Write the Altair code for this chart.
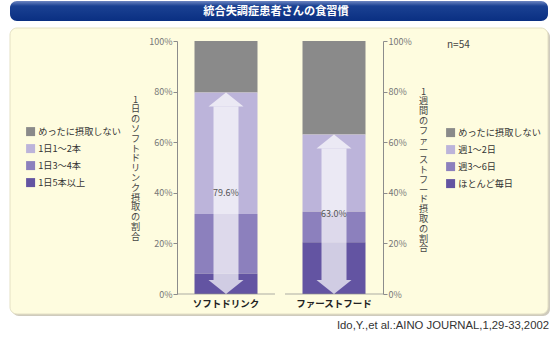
import altair as alt
import pandas as pd

# ---------------- data ----------------
categories = ["ソフトドリンク", "ファーストフード"]
soft_labels = ["めったに摂取しない", "1日1〜2本", "1日3〜4本", "1日5本以上"]
soft_values = [20.4, 48.0, 23.6, 8.0]
soft_order = [3, 2, 1, 0]
fast_labels = ["めったに摂取しない", "週1〜2日", "週3〜6日", "ほとんど毎日"]
fast_values = [37.0, 30.5, 12.0, 20.5]
fast_order = [3, 2, 1, 0]
arrow_values = [79.6, 63.0]
arrow_texts = ["79.6%", "63.0%"]
tick_values = [0, 20, 40, 60, 80, 100]
title_text = "統合失調症患者さんの食習慣"
left_title = "1日のソフトドリンク摂取の割合"
right_title = "1週間のファーストフード摂取の割合"
n_text = "n=54"
source_text = "Ido,Y.,et al.:AINO JOURNAL,1,29-33,2002"

colors = ["#8a8a8a", "#bcb4da", "#8c80bd", "#6354a2"]
FONT = "Noto Sans CJK JP"

# plot area placement inside the 560x339 page
W, H = 206, 253
X0, Y0 = 177, 41


def px(x):
    return x - X0


def py(y):
    return y - Y0


soft_df = pd.DataFrame({"cat": categories[0], "label": soft_labels,
                        "value": soft_values, "order": soft_order})
fast_df = pd.DataFrame({"cat": categories[1], "label": fast_labels,
                        "value": fast_values, "order": fast_order})
arrow_df = pd.DataFrame({"cat": categories, "value": arrow_values,
                         "text": arrow_texts, "zero": [0, 0]})
base_df = pd.DataFrame({"cat": categories, "zero": [0, 0]})
one = pd.DataFrame({"d": [0]})


def xs():
    return alt.Scale(domain=categories, paddingInner=0.4167, paddingOuter=0.162)


def ys():
    return alt.Scale(domain=[0, 100], nice=False)


axis_common = dict(values=tick_values, labelExpr="datum.value + '%'",
                   domainColor="#8c8c8c", tickColor="#8c8c8c", tickSize=4,
                   labelColor="#777777", labelFontSize=9, labelFont=FONT,
                   labelPadding=1, grid=False, titleAngle=0, titleAlign="center",
                   titleBaseline="top", titleFontSize=9.2, titleLineHeight=9.8,
                   titleFontWeight="normal", titleColor="#444444", titleFont=FONT,
                   zindex=2)

legend_common = dict(orient="none", title=None, symbolType="square",
                     symbolSize=81, symbolStrokeWidth=0, symbolOpacity=1,
                     labelFontSize=9.2, labelFont=FONT, labelColor="#333333",
                     rowPadding=7, labelOffset=3, direction="vertical")

b1 = alt.Chart(one)

shadow = b1.mark_rect(cornerRadius=7, color="#cfcbbd").encode(
    x=alt.value(px(12)), x2=alt.value(px(550)),
    y=alt.value(py(30)), y2=alt.value(py(316)))
panel = b1.mark_rect(cornerRadius=7, fill="#fefcdf", stroke="#e4e0c4",
                     strokeWidth=1).encode(
    x=alt.value(px(10)), x2=alt.value(px(548)),
    y=alt.value(py(28)), y2=alt.value(py(314)))
banner = b1.mark_rect(
    cornerRadius=7,
    fill=alt.Gradient(gradient="linear", x1=0, x2=0, y1=0, y2=1,
                      stops=[alt.GradientStop(offset=0, color="#6d86c2"),
                             alt.GradientStop(offset=0.25, color="#1a4192"),
                             alt.GradientStop(offset=1, color="#0a2f82")])).encode(
    x=alt.value(px(10)), x2=alt.value(px(548)),
    y=alt.value(py(1)), y2=alt.value(py(21)))
banner_text = b1.mark_text(font=FONT, fontSize=11.2, fontWeight="bold",
                           color="white", baseline="middle").encode(
    x=alt.value(px(276)), y=alt.value(py(11.5)), text=alt.value(title_text))

soft_bars = alt.Chart(soft_df).mark_bar().encode(
    x=alt.X("cat:N", scale=xs(), sort=categories,
            axis=alt.Axis(title=None, domain=False, ticks=False, labelAngle=0,
                          labelFontWeight="bold", labelFontSize=9.5,
                          labelColor="#222222", labelPadding=4, labelFont=FONT,
                          zindex=2)),
    y=alt.Y("value:Q", stack="zero", scale=ys(),
            axis=alt.Axis(orient="left", title=list(left_title),
                          titleX=-42, titleY=54, **axis_common)),
    color=alt.Color("label:N", scale=alt.Scale(domain=soft_labels, range=colors),
                    legend=alt.Legend(legendX=px(26), legendY=py(127),
                                      **legend_common)),
    order=alt.Order("order:Q"),
)

fast_bars = alt.Chart(fast_df).mark_bar().encode(
    x=alt.X("cat:N", scale=xs(), sort=categories),
    y=alt.Y("value:Q", stack="zero", scale=ys(),
            axis=alt.Axis(orient="right", title=list(right_title),
                          titleX=40, titleY=46, **axis_common)),
    color=alt.Color("label:N", scale=alt.Scale(domain=fast_labels, range=colors),
                    legend=alt.Legend(legendX=px(446), legendY=py(128),
                                      **legend_common)),
    order=alt.Order("order:Q"),
)

baseline = alt.Chart(base_df).mark_tick(size=98, thickness=1, color="#8c8c8c").encode(
    x=alt.X("cat:N", scale=xs(), sort=categories),
    y=alt.Y("zero:Q", scale=ys(), axis=None),
)

shaft = alt.Chart(arrow_df).mark_bar(size=25, color="white", opacity=0.7,
                                     yOffset=14, y2Offset=-14).encode(
    x=alt.X("cat:N", scale=xs(), sort=categories),
    y=alt.Y("value:Q", scale=ys(), axis=None),
    y2="zero:Q",
)
head_up = alt.Chart(arrow_df).mark_point(shape="M0,0L1,0.8L-1,0.8Z", size=1225,
                                         filled=True, color="white",
                                         opacity=0.7, strokeWidth=0).encode(
    x=alt.X("cat:N", scale=xs(), sort=categories),
    y=alt.Y("value:Q", scale=ys(), axis=None),
)
head_down = alt.Chart(arrow_df).mark_point(shape="M0,0L1,-0.8L-1,-0.8Z", size=1225,
                                           filled=True, color="white",
                                           opacity=0.7, strokeWidth=0).encode(
    x=alt.X("cat:N", scale=xs(), sort=categories),
    y=alt.Y("zero:Q", scale=ys(), axis=None),
)
arrow_label = alt.Chart(arrow_df).transform_calculate(
    half="datum.value / 2").mark_text(font=FONT, fontSize=9, color="#555555",
                                      baseline="middle").encode(
    x=alt.X("cat:N", scale=xs(), sort=categories),
    y=alt.Y("half:Q", scale=ys(), axis=None),
    text="text:N",
)

n_label = b1.mark_text(font=FONT, fontSize=10, color="#444444", align="left",
                       baseline="middle").encode(
    x=alt.value(px(447)), y=alt.value(py(45)), text=alt.value(n_text))
source = b1.mark_text(font="Liberation Sans", fontSize=11.3, color="#333333",
                      align="right", baseline="middle").encode(
    x=alt.value(px(549)), y=alt.value(py(326)), text=alt.value(source_text))

chart = alt.layer(
    shadow, panel, banner, banner_text, soft_bars, fast_bars, baseline,
    shaft, head_up, head_down, arrow_label, n_label, source
).resolve_scale(y="independent", color="independent").properties(
    width=W, height=H,
    padding={"left": X0, "top": Y0, "right": 560 - X0 - W, "bottom": 339 - Y0 - H},
    autosize=alt.AutoSizeParams(type="none"),
    background="white",
).configure_view(stroke=None)

chart.save("out.html", embed_options={"renderer": "svg", "actions": False})
